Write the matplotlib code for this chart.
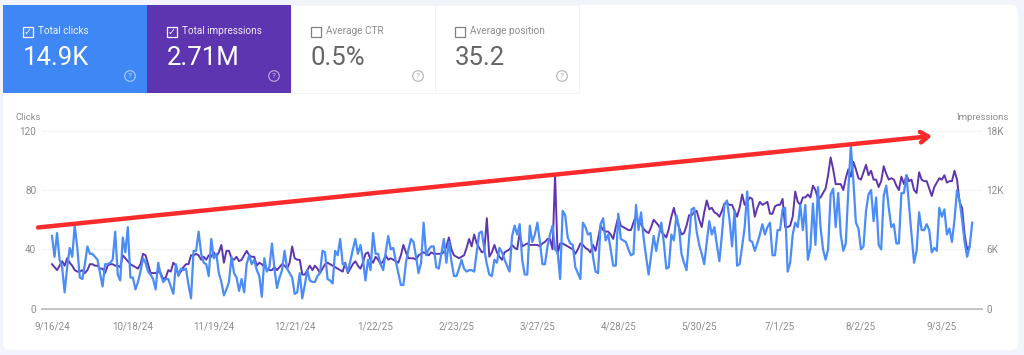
import matplotlib
matplotlib.use('Agg')
import matplotlib.pyplot as plt
import pandas as pd
from matplotlib.patches import Circle, FancyBboxPatch, Rectangle

plt.rcParams['font.family'] = ['Roboto', 'DejaVu Sans']

START_DATE = '2024-09-16'

CLICKS = [
    49, 35, 51, 33, 28, 11, 28, 41, 35, 56,
    41, 21, 20, 30, 42, 37, 37, 35, 33, 24,
    15, 30, 30, 31, 33, 52, 23, 19, 48, 38,
    55, 21, 21, 13, 18, 25, 34, 31, 25, 23,
    20, 13, 31, 23, 18, 20, 20, 15, 10, 30,
    22, 27, 26, 27, 16, 7, 39, 39, 52, 37,
    31, 30, 22, 47, 34, 37, 24, 18, 9, 13,
    18, 35, 24, 21, 12, 20, 11, 30, 36, 30,
    33, 26, 22, 8, 34, 25, 28, 44, 27, 14,
    21, 26, 39, 27, 24, 21, 10, 11, 24, 7,
    16, 26, 19, 18, 18, 22, 24, 39, 38, 20,
    19, 17, 39, 36, 47, 30, 30, 25, 32, 40,
    47, 37, 43, 33, 19, 33, 26, 51, 37, 37,
    30, 26, 38, 49, 40, 41, 32, 24, 16, 16,
    31, 40, 47, 45, 35, 24, 31, 58, 36, 40,
    42, 42, 28, 27, 37, 47, 31, 45, 32, 22,
    22, 27, 33, 27, 25, 26, 26, 25, 38, 51,
    52, 40, 30, 23, 22, 33, 31, 41, 38, 33,
    29, 25, 49, 56, 50, 57, 33, 23, 23, 56,
    45, 50, 58, 45, 30, 30, 42, 50, 56, 40,
    38, 20, 66, 63, 48, 44, 43, 28, 24, 20,
    58, 55, 50, 51, 35, 25, 24, 57, 61, 46,
    50, 40, 29, 29, 64, 47, 46, 45, 40, 36,
    37, 70, 53, 65, 48, 35, 23, 36, 49, 39,
    49, 58, 45, 27, 28, 50, 46, 63, 55, 37,
    31, 26, 47, 67, 68, 52, 43, 37, 30, 45,
    59, 50, 55, 43, 32, 50, 70, 73, 60, 42,
    66, 29, 30, 42, 55, 79, 46, 45, 39, 44,
    50, 57, 50, 55, 58, 36, 36, 53, 53, 67,
    68, 25, 31, 50, 58, 55, 70, 53, 70, 33,
    41, 71, 43, 82, 55, 40, 33, 40, 77, 81,
    55, 78, 50, 39, 44, 80, 110, 86, 58, 54,
    40, 42, 66, 77, 80, 59, 75, 43, 40, 76,
    83, 68, 55, 57, 44, 44, 78, 78, 90, 70,
    50, 31, 39, 65, 53, 53, 57, 53, 38, 41,
    39, 68, 62, 67, 50, 54, 45, 60, 80, 73,
    60, 45, 35, 42, 58,
]

IMPRESSIONS = [
    4500, 4200, 3900, 4350, 4800, 4350, 5100, 4650, 4350, 3900,
    3750, 3750, 3900, 3600, 3900, 4500, 4500, 4350, 4350, 4050,
    4050, 3600, 4350, 4500, 4500, 4350, 4350, 4200, 5400, 5100,
    4800, 4500, 4350, 4200, 4050, 4500, 5550, 5400, 4500, 3600,
    3600, 3600, 3750, 3600, 3000, 3150, 3900, 3750, 4650, 4350,
    3450, 3750, 4200, 4500, 4500, 5400, 5400, 5550, 5400, 4950,
    5250, 4950, 5400, 5250, 5700, 5250, 5700, 6450, 4650, 5850,
    5850, 5100, 4950, 5250, 4800, 4950, 5400, 5850, 5400, 5250,
    5250, 4350, 4650, 4500, 4200, 4050, 3900, 3900, 4200, 3900,
    4200, 4500, 4350, 4050, 4650, 6300, 5100, 4950, 4950, 3450,
    3450, 3900, 4350, 3900, 4350, 4050, 3600, 4050, 4500, 4650,
    4500, 4350, 4200, 4050, 3900, 3750, 4650, 3600, 4050, 4500,
    4800, 4350, 4050, 4650, 5550, 5700, 4950, 4650, 5250, 4950,
    4500, 4800, 5400, 4950, 5100, 4950, 4800, 4650, 5400, 6450,
    5700, 5100, 5100, 5100, 4950, 5400, 5550, 5700, 5550, 5400,
    5700, 5550, 5550, 5550, 5550, 5700, 6300, 7200, 6000, 5400,
    5250, 5100, 5250, 5400, 6150, 7050, 6300, 7500, 6600, 6150,
    5700, 5850, 9150, 5250, 5700, 6450, 5700, 5250, 4950, 5700,
    5850, 6000, 6450, 6150, 6000, 7650, 6300, 6450, 6600, 6450,
    6450, 6450, 6450, 6300, 6600, 6750, 7050, 7050, 6000, 13500,
    5550, 6600, 6600, 6450, 6300, 6150, 6000, 5550, 6000, 6600,
    6450, 6150, 6000, 5700, 6450, 5850, 7050, 8400, 7950, 7800,
    7800, 7500, 7050, 8250, 9300, 8400, 8250, 8100, 7950, 7950,
    8700, 9450, 8700, 8550, 8100, 7800, 7650, 8250, 9000, 8700,
    8400, 7800, 7500, 7200, 8100, 9300, 10200, 9000, 8250, 7500,
    7650, 8400, 9450, 9450, 9750, 9900, 9000, 8250, 9750, 10950,
    10050, 10200, 9750, 9600, 9300, 9900, 10650, 10650, 10500, 10500,
    9900, 9300, 10200, 11550, 10500, 10800, 11250, 11100, 9300, 10200,
    10800, 10500, 10650, 10800, 9600, 9600, 10350, 10500, 10500, 11100,
    8250, 8250, 8400, 9300, 11850, 10800, 10500, 11250, 11250, 11550,
    11250, 12450, 12000, 11100, 11250, 11700, 12150, 13500, 15300, 14100,
    12600, 12600, 12600, 12000, 13200, 14100, 13350, 14850, 14100, 13200,
    13050, 13800, 14550, 13500, 13950, 13050, 13050, 12300, 12900, 14400,
    13650, 13050, 13200, 13050, 12450, 12000, 13350, 12600, 13500, 12900,
    13050, 12000, 11700, 13800, 13050, 12900, 12900, 12150, 11400, 12300,
    12750, 13200, 13050, 13500, 12750, 12900, 12900, 13950, 13050, 10800,
    10200, 7500, 6000, 6300,
]

X_TICKS = ['2024-09-16', '2024-10-18', '2024-11-19', '2024-12-21', '2025-01-22', '2025-02-23',
           '2025-03-27', '2025-04-28', '2025-05-30', '2025-07-01', '2025-08-02', '2025-09-03']
X_LABELS = ['9/16/24', '10/18/24', '11/19/24', '12/21/24', '1/22/25', '2/23/25',
            '3/27/25', '4/28/25', '5/30/25', '7/1/25', '8/2/25', '9/3/25']
CLICK_TICKS = [0, 40, 80, 120]
IMPRESSION_TICKS = [0, 6000, 12000, 18000]
IMPRESSION_LABELS = ['0', '6K', '12K', '18K']

TILE_NAMES = ['Total clicks', 'Total impressions', 'Average CTR', 'Average position']
TILE_VALUES = ['14.9K', '2.71M', '0.5%', '35.2']
TILE_COLORS = ['#3F87F5', '#5E35B1', '#FFFFFF', '#FFFFFF']
TILE_CHECKED = [True, True, False, False]

BLUE = '#4A8DF8'
PURPLE = '#5E35B1'
GREY = '#8C8C8C'
W, H = 1024, 355

fig = plt.figure(figsize=(W / 100, H / 100), dpi=100, facecolor='#F1F4FB')

# page layer, drawn in pixel coordinates
page = fig.add_axes([0, 0, 1, 1], zorder=0)
page.set_xlim(0, W)
page.set_ylim(H, 0)
page.axis('off')
page.add_patch(FancyBboxPatch((3, 5), 1015, 345, boxstyle='round,pad=0,rounding_size=7', fc='white', ec='none'))

for i, name in enumerate(TILE_NAMES):
    x0 = 3 + 144 * i
    filled = TILE_CHECKED[i]
    label_color = 'white' if filled else '#808080'
    value_color = 'white' if filled else '#666666'
    page.add_patch(Rectangle((x0, 5), 144, 88, fc=TILE_COLORS[i], ec='#F3F3F3' if not filled else 'none', lw=0.7))
    page.add_patch(Rectangle((x0 + 20, 27), 9.5, 9.5, fc='none', ec=label_color, lw=0.9))
    if filled:
        page.text(x0 + 24.8, 31.8, '\u2713', color='white', fontsize=7, ha='center', va='center',
                  family='DejaVu Sans')
    page.text(x0 + 35, 31, name, color=label_color, fontsize=7.2, va='center', alpha=0.9)
    page.text(x0 + 20, 58, TILE_VALUES[i], color=value_color, fontsize=18.5, va='center')
    page.add_patch(Circle((x0 + 127, 76), 5.3, fc='none', ec=label_color, lw=0.8, alpha=0.6))
    page.text(x0 + 127, 76, '?', color=label_color, fontsize=6, ha='center', va='center', alpha=0.7)

page.text(16, 117, 'Clicks', color=GREY, fontsize=6.8, va='center')
page.text(1008, 117, 'Impressions', color=GREY, fontsize=6.8, va='center', ha='right')

# chart layer
ax = fig.add_axes([42 / W, 1 - 308.7 / H, 940 / W, 178 / H], zorder=2)
ax2 = ax.twinx()
ax2.set_zorder(1)
ax.patch.set_visible(False)
ax2.patch.set_visible(False)

clicks_x = pd.date_range(START_DATE, periods=len(CLICKS))
impressions_x = pd.date_range(START_DATE, periods=len(IMPRESSIONS))
ax.plot(clicks_x, CLICKS, color=BLUE, lw=1.6, solid_joinstyle='round')
ax2.plot(impressions_x, IMPRESSIONS, color=PURPLE, lw=1.4, solid_joinstyle='round')

tick_dates = pd.to_datetime(X_TICKS)
px_per_day = 2.528
ax.set_xlim(pd.Timestamp(START_DATE) - pd.Timedelta(days=10 / px_per_day),
            pd.Timestamp(START_DATE) + pd.Timedelta(days=930 / px_per_day))
ax.set_ylim(0, 120)
ax2.set_ylim(0, 18000)
ax.set_xticks(tick_dates)
ax.set_xticklabels(X_LABELS)
ax.set_yticks(CLICK_TICKS)
ax2.set_yticks(IMPRESSION_TICKS)
ax2.set_yticklabels(IMPRESSION_LABELS)

ax2.grid(axis='y', color='#F3F3F3', lw=0.9)
ax2.set_axisbelow(True)
ax.tick_params(axis='x', length=0, pad=9, labelsize=7, labelcolor=GREY)
ax.tick_params(axis='y', length=0, pad=4, labelsize=7.2, labelcolor=GREY)
ax2.tick_params(axis='y', length=0, pad=3, labelsize=7.2, labelcolor=GREY)
for a in (ax, ax2):
    for side in ('top', 'left', 'right'):
        a.spines[side].set_visible(False)
    a.spines['bottom'].set_color('#C4C4C4')
    a.spines['bottom'].set_linewidth(1.2)

# hand drawn trend arrow on top of the chart
overlay = fig.add_axes([0, 0, 1, 1], zorder=5)
overlay.set_xlim(0, W)
overlay.set_ylim(H, 0)
overlay.axis('off')
overlay.patch.set_visible(False)
overlay.annotate('', xy=(932, 136), xytext=(38, 227.5),
                 arrowprops=dict(arrowstyle='->,head_length=0.55,head_width=0.38', color='#FB2B2B', lw=3.2,
                                 shrinkA=0, shrinkB=0))

fig.savefig('out.png', dpi=100, facecolor=fig.get_facecolor())
